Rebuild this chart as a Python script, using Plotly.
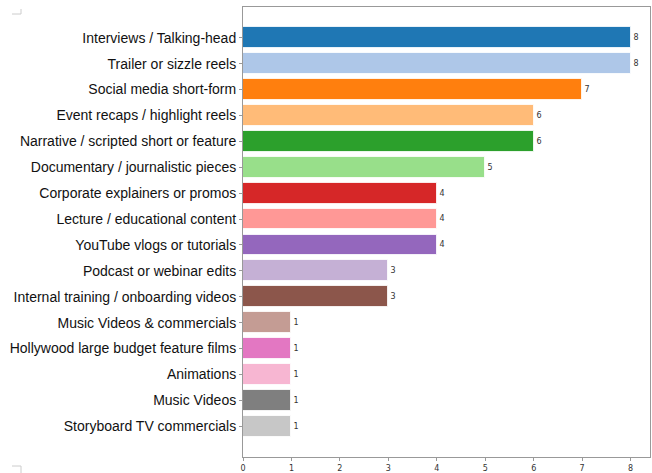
import plotly.graph_objects as go

categories = [
    "Interviews / Talking-head",
    "Trailer or sizzle reels",
    "Social media short-form",
    "Event recaps / highlight reels",
    "Narrative / scripted short or feature",
    "Documentary / journalistic pieces",
    "Corporate explainers or promos",
    "Lecture / educational content",
    "YouTube vlogs or tutorials",
    "Podcast or webinar edits",
    "Internal training / onboarding videos",
    "Music Videos & commercials",
    "Hollywood large budget feature films",
    "Animations",
    "Music Videos",
    "Storyboard TV commercials",
]
values = [8, 8, 7, 6, 6, 5, 4, 4, 4, 3, 3, 1, 1, 1, 1, 1]
colors = ["#1f77b4", "#aec7e8", "#ff7f0e", "#ffbb78", "#2ca02c", "#98df8a",
          "#d62728", "#ff9896", "#9467bd", "#c5b0d5", "#8c564b", "#c49c94",
          "#e377c2", "#f7b6d2", "#7f7f7f", "#c7c7c7"]
x_ticks = [0, 1, 2, 3, 4, 5, 6, 7, 8]

positions = list(range(len(categories)))

fig = go.Figure()
fig.add_trace(go.Bar(
    x=values,
    y=positions,
    orientation="h",
    width=0.8,
    marker=dict(color=colors, line=dict(color="rgba(255,255,255,0.8)", width=1)),
    text=[str(v) for v in values],
    textposition="outside",
    textfont=dict(size=8, color="#333333", family="DejaVu Sans"),
    cliponaxis=False,
    hoverinfo="skip",
))

fig.update_layout(
    width=652, height=473,
    margin=dict(l=243, r=2, t=7, b=16),
    paper_bgcolor="white",
    plot_bgcolor="white",
    showlegend=False,
    bargap=0,
)
fig.update_xaxes(
    range=[0, 8.4],
    tickvals=x_ticks,
    ticktext=[str(t) for t in x_ticks],
    tickfont=dict(size=8, family="DejaVu Sans", color="#333333"),
    showgrid=False, zeroline=False,
    showline=True, linecolor="#999999", linewidth=1, mirror=True,
    ticks="outside", ticklen=3, tickcolor="#999999",
    automargin=False, ticklabelstandoff=0,
)
fig.update_yaxes(
    range=[16.19, -1.19],
    tickvals=positions,
    ticktext=categories,
    tickfont=dict(size=14, family="Liberation Sans", color="#111111"),
    showgrid=False, zeroline=False,
    showline=True, linecolor="#999999", linewidth=1, mirror=True,
    ticks="outside", ticklen=3, tickcolor="#999999",
    automargin=False,
)

# corner crop marks (paper coords relative to plot area: 407 x 450 px)
mark = dict(color="#cccccc", width=1)
x_a, x_b = -231 / 407, -222 / 407
fig.add_shape(type="line", xref="paper", yref="paper",
              x0=x_a, x1=x_b, y0=443 / 450, y1=443 / 450, line=mark)
fig.add_shape(type="line", xref="paper", yref="paper",
              x0=x_b, x1=x_b, y0=443 / 450, y1=448 / 450, line=mark)
fig.add_shape(type="line", xref="paper", yref="paper",
              x0=x_a, x1=x_b, y0=-9 / 450, y1=-9 / 450, line=mark)
fig.add_shape(type="line", xref="paper", yref="paper",
              x0=x_b, x1=x_b, y0=-9 / 450, y1=-16 / 450, line=mark)

fig.write_html(
    "out.html",
    config={"displayModeBar": False},
    post_script="document.body.style.margin='0';document.body.style.overflow='hidden';",
)
